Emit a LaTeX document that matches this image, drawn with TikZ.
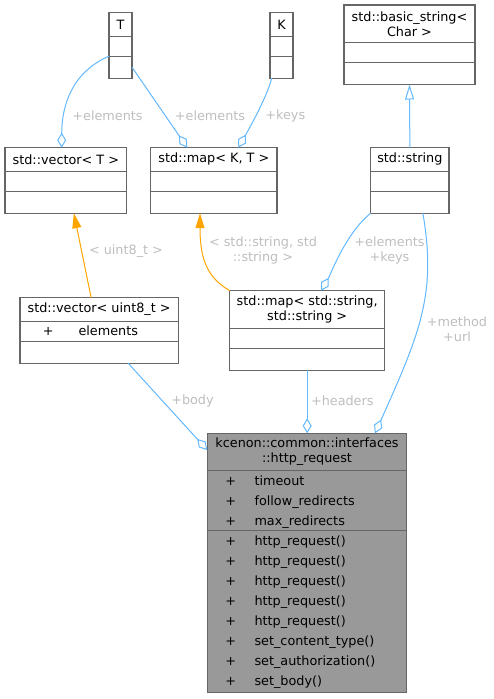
\documentclass[tikz,border=0pt]{standalone}
\usepackage{fontspec}
\setmainfont{DejaVu Sans}
\usetikzlibrary{positioning,arrows.meta}

\definecolor{boxline}{HTML}{666666}
\definecolor{edgeblue}{HTML}{63B8FF}
\definecolor{edgeorange}{HTML}{FFA500}
\definecolor{lblgray}{HTML}{BEBEBE}
\definecolor{hilite}{HTML}{999999}
\newcommand\umlfont{\fontsize{12.8}{15}\selectfont}

\tikzset{
	part/.style={draw=boxline,line width=1.1pt,inner sep=0pt,outer sep=0pt,
		minimum width=#1,align=center,font=\umlfont},
	txt/.style={inner sep=0pt,font=\umlfont},
	lbl/.style={inner sep=0pt,align=center,text=lblgray,font=\umlfont},
	assoc/.style={draw=edgeblue,line width=1pt,-{Diamond[open,length=15pt,width=9pt]}},
	inherit/.style={draw=edgeblue,line width=1pt,-{Triangle[open,length=15pt,width=9pt]}},
	tmpl/.style={draw=edgeorange,line width=1pt,-{Triangle[length=15pt,width=9pt]}}
}

% name, top left, width, title height, title, attribute height, operation height, fill
\def\klasse#1#2#3#4#5#6#7#8{
	\node[part=#3pt,minimum height=#4pt,fill=#8,anchor=north west] (#1) at #2 {#5};
	\node[part=#3pt,minimum height=#6pt,fill=#8,below=0pt of #1] (#1-a) {};
	\node[part=#3pt,minimum height=#7pt,fill=#8,below=0pt of #1-a] (#1-o) {};
}

\begin{document}
\begin{tikzpicture}[x=1pt,y=-1pt]
\useasboundingbox (0,0) rectangle (494,699);

\klasse{T}{(109,12.7)}{23}{23.5}{T}{20}{22}{white}
\klasse{K}{(270,12.7)}{23}{23.5}{K}{20}{22}{white}
\klasse{bstr}{(344,5)}{131}{37.5}{std::basic\_string<\\Char >}{20}{22}{white}
\klasse{vecT}{(5,147.7)}{121.7}{23.5}{std::vector< T >}{20}{22}{white}
\klasse{mapKT}{(150.7,147.7)}{126.3}{23.5}{std::map< K, T >}{20}{22}{white}
\klasse{str}{(370.7,147.7)}{78.3}{23.5}{std::string}{20}{22}{white}
\klasse{vecU8}{(20,297.7)}{158.3}{23.5}{std::vector< uint8\_t >}{20}{22}{white}
\klasse{mapSS}{(229.7,290.7)}{155}{37.5}{std::map< std::string,\\std::string >}{20}{22}{white}
\klasse{http}{(207.3,433.3)}{199.4}{37.5}{kcenon::common::interfaces\\::http\_request}{60}{162}{hilite}

% members
\node[txt,anchor=base] (vecU8-p1) at (48.3,335.7) {+};
\node[txt,anchor=base west] (vecU8-m1) at (78.3,335.7) {elements};
\foreach \n [count=\i] in {timeout,follow\_redirects,max\_redirects}{
	\node[txt,anchor=base] (http-p\i) at (230.7,465.3+20*\i) {+};
	\node[txt,anchor=base west] (http-m\i) at (254.3,465.3+20*\i) {\n};
}
\foreach \n [count=\i] in {http\_request(),http\_request(),http\_request(),
	http\_request(),http\_request(),set\_content\_type(),set\_authorization(),set\_body()}{
	\node[txt,anchor=base] (http-q\i) at (230.7,525.3+20*\i) {+};
	\node[txt,anchor=base west] (http-f\i) at (254.3,525.3+20*\i) {\n};
}

% connectors
\draw[assoc] (T-a.south west) .. controls +(-35,15) and +(0,-45) .. ([xshift=-4.15pt]vecT.north);
\draw[assoc] (T-o.east) -- ([xshift=-26.5pt]mapKT.north);
\draw[assoc] ([xshift=1.7pt]K-o.south west) .. controls +(-5,20) and +(8,-14) .. ([xshift=24.45pt]mapKT.north);
\draw[inherit] (str.north) -- (bstr-o.south);
\draw[tmpl] ([xshift=-8pt]vecU8.north) -- ([xshift=8pt]vecT-o.south);
\draw[tmpl] (mapSS.north west) .. controls +(-20,-12) and +(0,50) .. ([xshift=-13.85pt]mapKT-o.south);
\draw[assoc] (str-o.south west) .. controls +(-25,20) and +(9,-15) .. ([xshift=13.8pt]mapSS.north);
\draw[assoc] ([xshift=13pt]str-o.south) .. controls +(14,80) and +(45,-100) .. ([xshift=68pt]http.north);
\draw[assoc] ([xshift=29pt]vecU8-o.south) -- ([yshift=2pt]http.west);
\draw[assoc] (mapSS-o.south) -- (mapSS-o.south |- http.north);

% labels
\node[lbl] (l-elemT) at (107.5,115.7) {+elements};
\node[lbl] (l-elemM) at (210,115.7) {+elements};
\node[lbl] (l-keys) at (285.3,115.7) {+keys};
\node[lbl] (l-u8) at (126,250.7) {< uint8\_t >};
\node[lbl] (l-ss) at (263,250.8) {< std::string, std\\::string >};
\node[lbl] (l-ek) at (389.5,250.8) {+elements\\+keys};
\node[lbl] (l-mu) at (457,329.2) {+method\\+url};
\node[lbl] (l-body) at (192.5,401) {+body};
\node[lbl] (l-head) at (342.3,401) {+headers};
\end{tikzpicture}
\end{document}
